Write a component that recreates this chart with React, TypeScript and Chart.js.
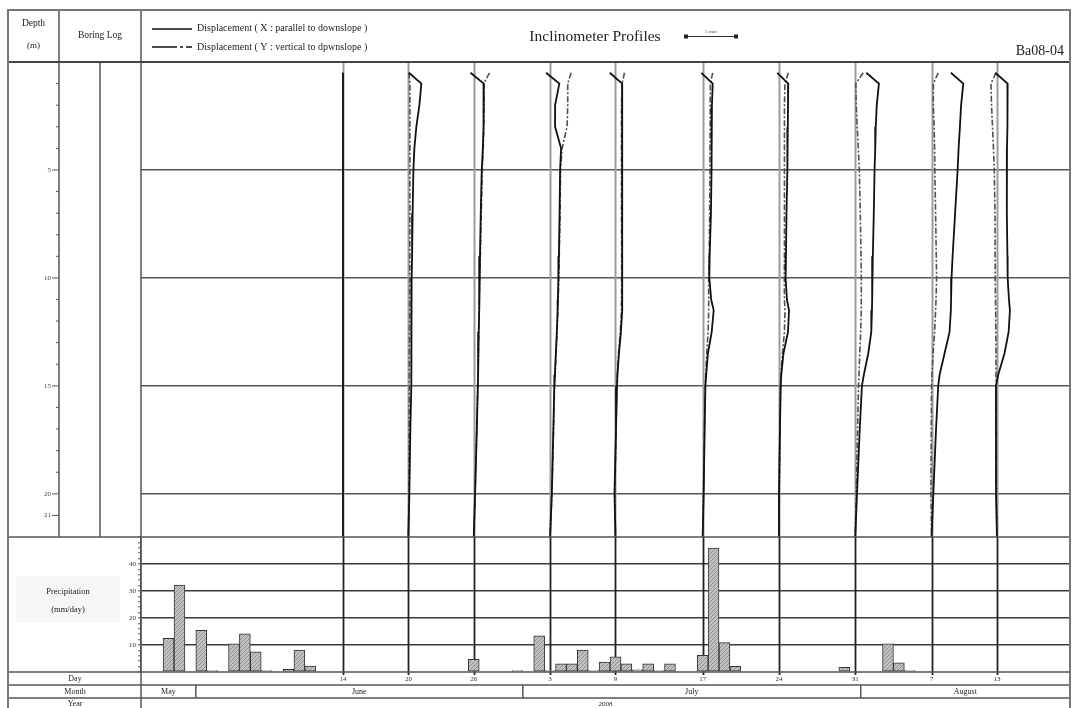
import React, { useEffect, useRef } from 'react';
import { Chart, registerables } from 'chart.js';

Chart.register(...registerables);

const FONT = '"Liberation Serif", "Times New Roman", serif';

// ---- Precipitation (mm/day) ----
const PRECIP_DATES = [
  '2008-05-29', '2008-05-30', '2008-06-01', '2008-06-02', '2008-06-04', '2008-06-05', '2008-06-06',
  '2008-06-07', '2008-06-09', '2008-06-10', '2008-06-11', '2008-06-26', '2008-06-30', '2008-07-02',
  '2008-07-03', '2008-07-04', '2008-07-05', '2008-07-06', '2008-07-07', '2008-07-08', '2008-07-09',
  '2008-07-10', '2008-07-11', '2008-07-12', '2008-07-13', '2008-07-14', '2008-07-17', '2008-07-18',
  '2008-07-19', '2008-07-20', '2008-07-30', '2008-08-03', '2008-08-04', '2008-08-05',
];
const PRECIP_MM = [
  12.5, 32.2, 15.4, 0.5, 10.4, 14.1, 7.5,
  0.5, 1.0, 8.1, 2.2, 4.7, 0.5, 13.4,
  0.5, 3.0, 3.0, 8.1, 0.5, 3.7, 5.6,
  3.0, 0.8, 3.0, 0.5, 3.0, 6.2, 45.9,
  10.9, 2.1, 1.7, 10.4, 3.4, 0.5,
];
const PRECIP_TICKS = [10, 20, 30, 40];

// ---- Inclinometer readings ----
const PROFILE_DATES = [
  '2008-06-14', '2008-06-20', '2008-06-26', '2008-07-03', '2008-07-09',
  '2008-07-17', '2008-07-24', '2008-07-31', '2008-08-07', '2008-08-13',
];
const DAY_TICK_LABELS = ['14', '20', '26', '3', '9', '17', '24', '31', '7', '13'];

// depth of reading points (m)
const DEPTHS = [0.5, 1, 2, 3, 4, 5, 7, 9, 10, 11, 11.5, 12.5, 13.5, 14.5, 15, 17, 20, 22];
const DEPTH_LABELS = [5, 10, 15, 20, 21];
const DEPTH_GRID = [5, 10, 15, 20];

// displacement X (parallel to downslope), mm
const X_0614 = [0, 0, 0, 0, 0, 0, 0, 0, 0, 0, 0, 0, 0, 0, 0, 0, 0, 0];
const X_0620 = [0.05, 1.19, 1.01, 0.73, 0.55, 0.46, 0.39, 0.34, 0.30, 0.29, 0.28, 0.28, 0.27, 0.26, 0.25, 0.18, 0.09, 0];
const X_0626 = [-0.30, 0.92, 0.92, 0.87, 0.83, 0.73, 0.64, 0.57, 0.52, 0.50, 0.48, 0.45, 0.41, 0.39, 0.37, 0.28, 0.12, 0];
const X_0703 = [-0.37, 0.85, 0.46, 0.46, 1.01, 0.92, 0.87, 0.81, 0.76, 0.72, 0.69, 0.62, 0.53, 0.44, 0.39, 0.30, 0.16, 0];
const X_0709 = [-0.52, 0.61, 0.64, 0.64, 0.62, 0.61, 0.61, 0.61, 0.61, 0.61, 0.61, 0.50, 0.32, 0.18, 0.14, 0.05, -0.09, 0];
const X_0717 = [-0.12, 0.92, 0.85, 0.83, 0.81, 0.80, 0.76, 0.64, 0.61, 0.78, 1.01, 0.83, 0.48, 0.32, 0.25, 0.18, 0.09, 0];
const X_0724 = [-0.16, 0.85, 0.83, 0.81, 0.78, 0.76, 0.69, 0.64, 0.61, 0.73, 0.92, 0.83, 0.41, 0.21, 0.16, 0.09, 0, 0];
const X_0731 = [1.01, 2.17, 1.97, 1.88, 1.83, 1.77, 1.70, 1.61, 1.56, 1.54, 1.53, 1.47, 1.19, 0.78, 0.61, 0.41, 0.16, 0];
const X_0807 = [1.77, 2.91, 2.71, 2.60, 2.48, 2.39, 2.16, 1.93, 1.83, 1.79, 1.77, 1.65, 1.19, 0.73, 0.61, 0.41, 0.16, 0];
const X_0813 = [-0.16, 0.98, 0.98, 0.94, 0.92, 0.89, 0.92, 0.96, 0.98, 1.10, 1.19, 1.07, 0.69, 0.11, -0.09, -0.09, -0.09, 0];

// displacement Y (vertical to downslope), mm
const Y_0614 = [0, 0, 0, 0, 0, 0, 0, 0, 0, 0, 0, 0, 0, 0, 0, 0, 0, 0];
const Y_0620 = [0.05, 0.14, 0.14, 0.14, 0.14, 0.14, 0.14, 0.13, 0.13, 0.12, 0.12, 0.11, 0.10, 0.10, 0.09, 0.07, 0.05, 0];
const Y_0626 = [1.44, 0.92, 0.96, 0.92, 0.87, 0.78, 0.69, 0.60, 0.55, 0.51, 0.50, 0.46, 0.42, 0.39, 0.37, 0.28, 0.12, 0];
const Y_0703 = [1.93, 1.62, 1.62, 1.56, 1.10, 0.96, 0.92, 0.84, 0.80, 0.75, 0.72, 0.64, 0.55, 0.46, 0.41, 0.32, 0.17, 0];
const Y_0709 = [0.83, 0.61, 0.55, 0.55, 0.55, 0.55, 0.55, 0.57, 0.57, 0.55, 0.55, 0.44, 0.28, 0.17, 0.12, 0.05, -0.05, 0];
const Y_0717 = [0.92, 0.71, 0.69, 0.69, 0.67, 0.67, 0.64, 0.60, 0.55, 0.55, 0.55, 0.50, 0.37, 0.28, 0.23, 0.17, 0.07, 0];
const Y_0724 = [0.85, 0.55, 0.50, 0.50, 0.50, 0.50, 0.50, 0.50, 0.49, 0.50, 0.55, 0.50, 0.32, 0.18, 0.14, 0.09, 0.03, 0];
const Y_0731 = [0.73, 0.05, 0.09, 0.18, 0.28, 0.37, 0.46, 0.53, 0.55, 0.55, 0.55, 0.50, 0.41, 0.34, 0.30, 0.21, 0.09, 0];
const Y_0807 = [0.61, 0.16, 0.16, 0.23, 0.28, 0.30, 0.37, 0.43, 0.46, 0.41, 0.37, 0.28, 0.14, 0.03, 0, -0.03, -0.06, 0];
const Y_0813 = [-0.09, -0.55, -0.50, -0.41, -0.32, -0.25, -0.18, -0.17, -0.16, -0.14, -0.12, -0.11, -0.09, -0.09, -0.09, -0.07, -0.05, 0];

const DISP_X = [X_0614, X_0620, X_0626, X_0703, X_0709, X_0717, X_0724, X_0731, X_0807, X_0813];
const DISP_Y = [Y_0614, Y_0620, Y_0626, Y_0703, Y_0709, Y_0717, Y_0724, Y_0731, Y_0807, Y_0813];

// ---- time axis ----
const MONTHS = ['May', 'June', 'July', 'August'];
const MONTH_STARTS = ['2008-05-01', '2008-06-01', '2008-07-01', '2008-08-01', '2008-09-01'];
const YEAR_LABEL = '2008';
const X_MIN = -5.53; // days from 2008-06-01
const X_MAX = 79.7;
const DAY_PER_MM = 1.0; // profile drawing scale (5 mm bar)

function dayIndex(iso: string): number {
  const [y, m, d] = iso.split('-').map(Number);
  return (Date.UTC(y, m - 1, d) - Date.UTC(2008, 5, 1)) / 86400000;
}

function makeHatch(ctx: CanvasRenderingContext2D) {
  const c = document.createElement('canvas');
  c.width = 4;
  c.height = 4;
  const g = c.getContext('2d')!;
  g.fillStyle = '#c0c0c0';
  g.fillRect(0, 0, 4, 4);
  g.strokeStyle = '#868686';
  g.lineWidth = 0.8;
  g.beginPath();
  g.moveTo(0, 4);
  g.lineTo(4, 0);
  g.stroke();
  return ctx.createPattern(c, 'repeat');
}

function ln(ctx: CanvasRenderingContext2D, x1: number, y1: number, x2: number, y2: number) {
  ctx.beginPath();
  ctx.moveTo(x1, y1);
  ctx.lineTo(x2, y2);
  ctx.stroke();
}

function txt(ctx: CanvasRenderingContext2D, s: string, x: number, y: number, size: number, align: CanvasTextAlign = 'center', color = '#222') {
  ctx.font = `${size}px ${FONT}`;
  ctx.fillStyle = color;
  ctx.textAlign = align;
  ctx.textBaseline = 'middle';
  ctx.fillText(s, x, y);
}

const tablePlugin = {
  id: 'inclinoTable',
  beforeDraw(chart: any) {
    const { ctx, width, height } = chart;
    ctx.save();
    ctx.fillStyle = '#ffffff';
    ctx.fillRect(0, 0, width, height);
    ctx.restore();
  },
  beforeDatasetsDraw(chart: any) {
    const { ctx, scales } = chart;
    const xs = scales.x, yd = scales.yd, yp = scales.yp;
    ctx.save();
    PROFILE_DATES.forEach((p) => {
      const px = Math.round(xs.getPixelForValue(dayIndex(p))) + 0.5;
      ctx.strokeStyle = '#9c9c9c';
      ctx.lineWidth = 2;
      ln(ctx, px, yd.top, px, yd.bottom);
      ctx.strokeStyle = '#222';
      ctx.lineWidth = 1.8;
      ln(ctx, px, yp.top, px, yp.bottom + 3);
    });
    ctx.restore();
  },
  afterDraw(chart: any) {
    const { ctx, chartArea: ca, scales } = chart;
    const xs = scales.x, yd = scales.yd, yp = scales.yp;
    const L = 8, C1 = 59, C2 = 100, T = 10;
    const R = ca.right, H = ca.top, MB = yd.bottom, PB = yp.bottom;
    const ROW1 = 685, ROW2 = 698;
    ctx.save();
    ctx.lineCap = 'butt';

    // precipitation label backdrop
    ctx.fillStyle = '#f6f6f6';
    ctx.fillRect(16, 576, 104, 46);

    // table lines
    ctx.strokeStyle = '#555';
    ctx.lineWidth = 1.5;
    ln(ctx, C1, T, C1, MB);
    ln(ctx, C2, H, C2, MB);
    ln(ctx, ca.left, T, ca.left, 712);
    ln(ctx, L, MB, R, MB);
    ln(ctx, L, PB, R, PB);
    ln(ctx, L, ROW1, R, ROW1);
    ln(ctx, L, ROW2, R, ROW2);
    ctx.strokeStyle = '#444';
    ctx.lineWidth = 2.2;
    ln(ctx, L, H, R, H);
    ctx.strokeStyle = '#777';
    ctx.lineWidth = 2;
    ctx.strokeRect(L, T, R - L, 720);

    // months
    ctx.strokeStyle = '#555';
    ctx.lineWidth = 1.5;
    for (let i = 0; i < MONTHS.length; i++) {
      const s = Math.max(ca.left, xs.getPixelForValue(dayIndex(MONTH_STARTS[i]) - 0.5));
      const e = Math.min(R, xs.getPixelForValue(dayIndex(MONTH_STARTS[i + 1]) - 0.5));
      if (i > 0) ln(ctx, s, ROW1, s, ROW2);
      txt(ctx, MONTHS[i], (s + e) / 2, (ROW1 + ROW2) / 2, 8);
    }
    txt(ctx, YEAR_LABEL, (ca.left + R) / 2, 704, 7);

    // left column labels
    txt(ctx, 'Day', 75, 678.5, 8);
    txt(ctx, 'Month', 75, 691.5, 8);
    txt(ctx, 'Year', 75, 704, 8);
    txt(ctx, 'Precipitation', 68, 592, 8.5);
    txt(ctx, '(mm/day)', 68, 610, 8.5);

    // depth axis
    ctx.strokeStyle = '#555';
    ctx.lineWidth = 1;
    for (let d = 1; d <= 21; d++) {
      const y = yd.getPixelForValue(d);
      const major = DEPTH_LABELS.includes(d);
      ln(ctx, major ? 52 : 56, y, C1, y);
      if (major) txt(ctx, String(d), 51, y, 7, 'right', '#444');
    }

    // header
    txt(ctx, 'Depth', 33.5, 23, 9.5);
    txt(ctx, '(m)', 33.5, 46, 9);
    txt(ctx, 'Boring Log', 100, 35, 9.5);
    ctx.strokeStyle = '#111';
    ctx.lineWidth = 1.6;
    ln(ctx, 152, 29, 192, 29);
    ctx.setLineDash([25, 3, 3, 3]);
    ln(ctx, 152, 47, 192, 47);
    ctx.setLineDash([]);
    txt(ctx, 'Displacement ( X : parallel to downslope )', 197, 28.5, 10, 'left');
    txt(ctx, 'Displacement ( Y : vertical to dpwnslope )', 197, 47.5, 10, 'left');
    txt(ctx, 'Inclinometer Profiles', 595, 37, 15.5);
    // scale bar
    ctx.strokeStyle = '#333';
    ctx.lineWidth = 1;
    ln(ctx, 684, 36.5, 738, 36.5);
    ctx.fillStyle = '#222';
    ctx.fillRect(684, 34.5, 4, 4);
    ctx.fillRect(734, 34.5, 4, 4);
    txt(ctx, '5 mm', 711, 32, 5, 'center', '#444');
    txt(ctx, 'Ba08-04', 1064, 51, 14, 'right');
    ctx.restore();
  },
};

export default function App() {
  const ref = useRef<HTMLCanvasElement>(null);

  useEffect(() => {
    const canvas = ref.current!;
    const ctx = canvas.getContext('2d')!;
    const hatch = makeHatch(ctx);

    const datasets: any[] = [];
    PROFILE_DATES.forEach((p, i) => {
      const d0 = dayIndex(p);
      datasets.push({
        type: 'line',
        label: 'X ' + p,
        xAxisID: 'x',
        yAxisID: 'yd',
        data: DEPTHS.map((z, k) => ({ x: d0 + DISP_X[i][k] * DAY_PER_MM, y: z })),
        borderColor: '#111',
        borderWidth: 1.8,
        pointRadius: 0,
        fill: false,
        tension: 0,
      });
    });
    PROFILE_DATES.forEach((p, i) => {
      const d0 = dayIndex(p);
      datasets.push({
        type: 'line',
        label: 'Y ' + p,
        xAxisID: 'x',
        yAxisID: 'yd',
        data: DEPTHS.map((z, k) => ({ x: d0 + DISP_Y[i][k] * DAY_PER_MM, y: z })),
        borderColor: '#505050',
        borderWidth: 1.6,
        borderDash: [6, 2, 2, 2],
        pointRadius: 0,
        fill: false,
        tension: 0,
      });
    });
    datasets.push({
      type: 'bar',
      label: 'Precipitation',
      xAxisID: 'x',
      yAxisID: 'yp',
      data: PRECIP_DATES.map((d, i) => ({ x: dayIndex(d), y: PRECIP_MM[i] })),
      backgroundColor: hatch,
      borderColor: '#333',
      borderWidth: 1,
      borderSkipped: false,
      barPercentage: 1,
      categoryPercentage: 1,
      grouped: false,
    });

    const near = (v: number, arr: number[]) => arr.some((a) => Math.abs(a - v) < 1e-6);

    const chart = new Chart(canvas, {
      type: 'bar',
      data: { datasets },
      options: {
        animation: false,
        responsive: false,
        maintainAspectRatio: false,
        devicePixelRatio: 1,
        layout: { padding: { left: 111, top: 62, right: 7, bottom: 0 } },
        plugins: {
          legend: { display: false },
          tooltip: { enabled: false },
          title: { display: false },
        },
        scales: {
          x: {
            type: 'linear',
            position: 'bottom',
            offset: false,
            min: X_MIN,
            max: X_MAX,
            afterFit: (s: any) => { s.height = 36; },
            afterBuildTicks: (s: any) => { s.ticks = PROFILE_DATES.map((d) => ({ value: dayIndex(d) })); },
            ticks: {
              autoSkip: false,
              maxRotation: 0,
              padding: 3,
              font: { family: FONT, size: 7 },
              color: '#333',
              callback: (_v: any, i: number) => DAY_TICK_LABELS[i],
            },
            grid: { display: false, drawTicks: false, offset: false },
            border: { display: false },
          },
          yp: {
            type: 'linear',
            position: 'left',
            stack: 'v',
            stackWeight: 135,
            min: 0,
            max: 50,
            afterFit: (s: any) => { s.width = 30; },
            ticks: {
              stepSize: 2,
              autoSkip: false,
              padding: 2,
              font: { family: FONT, size: 7 },
              color: '#333',
              callback: (v: any) => (near(Number(v), PRECIP_TICKS) ? String(v) : ''),
            },
            grid: {
              color: (c: any) => (near(c.tick.value, PRECIP_TICKS) ? '#3a3a3a' : 'rgba(0,0,0,0)'),
              lineWidth: 1.6,
              tickColor: '#555',
              tickLength: 3,
              tickWidth: 1,
            },
            border: { display: true, color: '#555', width: 1.5 },
          },
          yd: {
            type: 'linear',
            position: 'left',
            stack: 'v',
            stackWeight: 475,
            min: 0,
            max: 22,
            reverse: true,
            afterFit: (s: any) => { s.width = 30; },
            ticks: { display: false, stepSize: 1, autoSkip: false },
            grid: {
              color: (c: any) => (near(c.tick.value, DEPTH_GRID) ? '#555' : 'rgba(0,0,0,0)'),
              lineWidth: 1.5,
              drawTicks: false,
            },
            border: { display: false },
          },
        },
      } as any,
      plugins: [tablePlugin],
    });

    return () => chart.destroy();
  }, []);

  return (
    <div style={{ position: 'fixed', left: 0, top: 0, width: 1077, height: 708, background: '#fff' }}>
      <canvas ref={ref} width={1077} height={708} style={{ display: 'block', width: 1077, height: 708 }} />
    </div>
  );
}
